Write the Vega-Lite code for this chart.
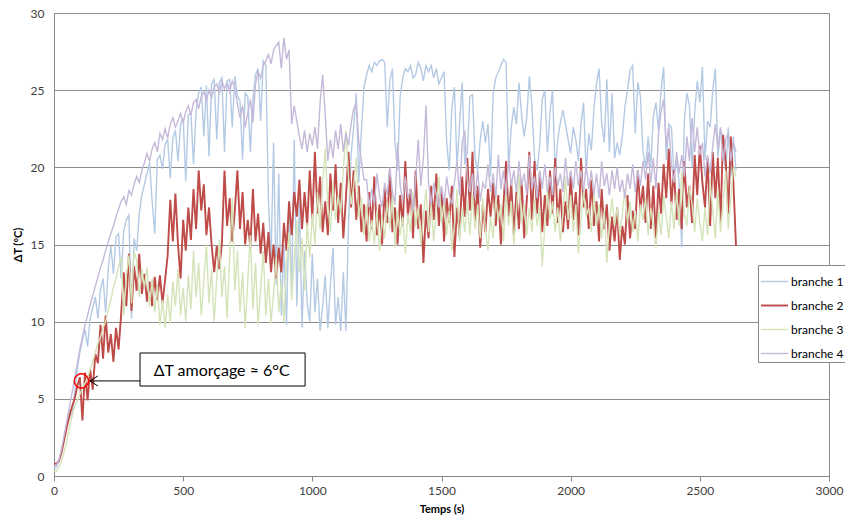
{
 "$schema": "https://vega.github.io/schema/vega-lite/v6.json",
 "width": 775,
 "height": 463,
 "autosize": {"type": "none"},
 "padding": {"left": 54, "top": 13, "right": 16, "bottom": 47},
 "background": "white",
 "config": {"view": {"stroke": "#898989", "strokeWidth": 1}, "font": "Lato"},
 "layer": [
  {
   "data": {"values": [
{"t":0,"branche 1":0.5,"branche 2":0.8,"branche 3":0.3,"branche 4":0.6},
{"t":10,"branche 1":0.6,"branche 2":0.8,"branche 3":0.3,"branche 4":0.7},
{"t":20,"branche 1":1.0,"branche 2":1.0,"branche 3":0.6,"branche 4":1.1},
{"t":30,"branche 1":1.7,"branche 2":1.6,"branche 3":1.0,"branche 4":1.8},
{"t":40,"branche 1":2.5,"branche 2":2.4,"branche 3":1.6,"branche 4":2.7},
{"t":50,"branche 1":3.4,"branche 2":3.2,"branche 3":2.3,"branche 4":3.6},
{"t":60,"branche 1":4.2,"branche 2":3.9,"branche 3":3.1,"branche 4":4.5},
{"t":70,"branche 1":3.8,"branche 2":4.5,"branche 3":3.9,"branche 4":5.4},
{"t":80,"branche 1":5.4,"branche 2":5.0,"branche 3":4.5,"branche 4":6.3},
{"t":90,"branche 1":6.9,"branche 2":5.8,"branche 3":4.9,"branche 4":7.3},
{"t":100,"branche 1":8.0,"branche 2":6.4,"branche 3":5.3,"branche 4":8.2},
{"t":110,"branche 1":8.8,"branche 2":3.6,"branche 3":5.7,"branche 4":9.0},
{"t":120,"branche 1":9.5,"branche 2":6.7,"branche 3":6.0,"branche 4":9.8},
{"t":130,"branche 1":8.4,"branche 2":4.9,"branche 3":6.4,"branche 4":10.4},
{"t":140,"branche 1":10.2,"branche 2":6.9,"branche 3":6.9,"branche 4":11.1},
{"t":150,"branche 1":10.9,"branche 2":5.6,"branche 3":7.4,"branche 4":11.7},
{"t":160,"branche 1":11.6,"branche 2":7.9,"branche 3":8.0,"branche 4":12.3},
{"t":170,"branche 1":10.2,"branche 2":7.3,"branche 3":8.6,"branche 4":12.9},
{"t":180,"branche 1":12.1,"branche 2":9.8,"branche 3":9.0,"branche 4":13.5},
{"t":190,"branche 1":12.8,"branche 2":7.6,"branche 3":9.6,"branche 4":14.0},
{"t":200,"branche 1":10.6,"branche 2":10.4,"branche 3":10.0,"branche 4":14.6},
{"t":210,"branche 1":13.4,"branche 2":8.0,"branche 3":10.8,"branche 4":15.2},
{"t":220,"branche 1":14.9,"branche 2":9.2,"branche 3":11.4,"branche 4":15.7},
{"t":230,"branche 1":13.1,"branche 2":7.4,"branche 3":12.2,"branche 4":16.2},
{"t":240,"branche 1":15.5,"branche 2":9.6,"branche 3":12.8,"branche 4":16.8},
{"t":250,"branche 1":15.7,"branche 2":8.2,"branche 3":13.6,"branche 4":17.3},
{"t":260,"branche 1":12.8,"branche 2":10.5,"branche 3":14.2,"branche 4":17.8},
{"t":270,"branche 1":15.9,"branche 2":13.2,"branche 3":10.4,"branche 4":18.1},
{"t":280,"branche 1":16.6,"branche 2":11.0,"branche 3":13.0,"branche 4":17.6},
{"t":290,"branche 1":16.9,"branche 2":14.4,"branche 3":14.3,"branche 4":18.5},
{"t":300,"branche 1":10.2,"branche 2":10.7,"branche 3":11.2,"branche 4":18.2},
{"t":310,"branche 1":15.4,"branche 2":13.6,"branche 3":14.5,"branche 4":18.9},
{"t":320,"branche 1":14.6,"branche 2":12.0,"branche 3":14.0,"branche 4":19.4},
{"t":330,"branche 1":17.0,"branche 2":14.4,"branche 3":11.6,"branche 4":19.0},
{"t":340,"branche 1":18.2,"branche 2":11.8,"branche 3":13.4,"branche 4":19.8},
{"t":350,"branche 1":18.9,"branche 2":13.1,"branche 3":12.2,"branche 4":20.3},
{"t":360,"branche 1":19.6,"branche 2":11.3,"branche 3":13.5,"branche 4":20.9},
{"t":370,"branche 1":20.3,"branche 2":12.6,"branche 3":11.0,"branche 4":20.4},
{"t":380,"branche 1":17.8,"branche 2":11.0,"branche 3":12.8,"branche 4":21.2},
{"t":390,"branche 1":15.7,"branche 2":12.9,"branche 3":10.6,"branche 4":21.6},
{"t":400,"branche 1":20.5,"branche 2":11.4,"branche 3":12.4,"branche 4":21.0},
{"t":410,"branche 1":20.8,"branche 2":13.0,"branche 3":9.8,"branche 4":22.2},
{"t":420,"branche 1":19.9,"branche 2":11.2,"branche 3":11.4,"branche 4":21.8},
{"t":430,"branche 1":21.5,"branche 2":12.7,"branche 3":9.6,"branche 4":22.5},
{"t":440,"branche 1":21.8,"branche 2":14.3,"branche 3":11.8,"branche 4":21.9},
{"t":450,"branche 1":19.3,"branche 2":17.9,"branche 3":9.9,"branche 4":22.8},
{"t":460,"branche 1":21.9,"branche 2":15.2,"branche 3":12.6,"branche 4":23.2},
{"t":470,"branche 1":22.4,"branche 2":18.3,"branche 3":11.0,"branche 4":22.6},
{"t":480,"branche 1":20.4,"branche 2":15.0,"branche 3":13.4,"branche 4":23.0},
{"t":490,"branche 1":22.8,"branche 2":12.8,"branche 3":10.4,"branche 4":23.5},
{"t":500,"branche 1":23.2,"branche 2":16.6,"branche 3":12.2,"branche 4":22.9},
{"t":510,"branche 1":19.1,"branche 2":14.6,"branche 3":10.0,"branche 4":23.6},
{"t":520,"branche 1":23.4,"branche 2":17.4,"branche 3":13.0,"branche 4":24.0},
{"t":530,"branche 1":23.5,"branche 2":15.3,"branche 3":10.8,"branche 4":23.4},
{"t":540,"branche 1":20.2,"branche 2":18.6,"branche 3":14.6,"branche 4":24.2},
{"t":550,"branche 1":23.6,"branche 2":16.0,"branche 3":11.6,"branche 4":24.4},
{"t":560,"branche 1":24.8,"branche 2":19.8,"branche 3":13.8,"branche 4":23.8},
{"t":570,"branche 1":25.2,"branche 2":17.2,"branche 3":10.4,"branche 4":24.6},
{"t":580,"branche 1":22.0,"branche 2":18.9,"branche 3":12.6,"branche 4":24.9},
{"t":590,"branche 1":25.3,"branche 2":15.6,"branche 3":15.0,"branche 4":24.3},
{"t":600,"branche 1":20.7,"branche 2":17.4,"branche 3":11.2,"branche 4":25.0},
{"t":610,"branche 1":25.4,"branche 2":15.0,"branche 3":13.4,"branche 4":24.5},
{"t":620,"branche 1":25.7,"branche 2":13.2,"branche 3":10.0,"branche 4":25.2},
{"t":630,"branche 1":21.8,"branche 2":14.9,"branche 3":12.8,"branche 4":25.4},
{"t":640,"branche 1":25.5,"branche 2":13.4,"branche 3":15.3,"branche 4":24.8},
{"t":650,"branche 1":25.8,"branche 2":15.1,"branche 3":11.6,"branche 4":25.6},
{"t":660,"branche 1":21.0,"branche 2":19.8,"branche 3":13.6,"branche 4":25.1},
{"t":670,"branche 1":25.6,"branche 2":16.2,"branche 3":10.2,"branche 4":25.5},
{"t":680,"branche 1":25.7,"branche 2":18.0,"branche 3":14.2,"branche 4":24.9},
{"t":690,"branche 1":22.6,"branche 2":15.2,"branche 3":18.0,"branche 4":25.6},
{"t":700,"branche 1":25.9,"branche 2":17.2,"branche 3":12.0,"branche 4":25.2},
{"t":710,"branche 1":24.6,"branche 2":19.8,"branche 3":14.6,"branche 4":24.1},
{"t":720,"branche 1":24.3,"branche 2":16.0,"branche 3":10.6,"branche 4":23.2},
{"t":730,"branche 1":20.5,"branche 2":18.4,"branche 3":13.2,"branche 4":24.0},
{"t":740,"branche 1":24.8,"branche 2":15.0,"branche 3":9.6,"branche 4":22.6},
{"t":750,"branche 1":24.6,"branche 2":16.6,"branche 3":12.6,"branche 4":23.5},
{"t":760,"branche 1":21.0,"branche 2":14.8,"branche 3":15.6,"branche 4":24.4},
{"t":770,"branche 1":24.4,"branche 2":18.6,"branche 3":10.8,"branche 4":22.9},
{"t":780,"branche 1":26.0,"branche 2":15.2,"branche 3":13.8,"branche 4":25.4},
{"t":790,"branche 1":26.4,"branche 2":17.0,"branche 3":9.8,"branche 4":26.2},
{"t":800,"branche 1":23.0,"branche 2":14.4,"branche 3":12.2,"branche 4":25.8},
{"t":810,"branche 1":26.9,"branche 2":16.4,"branche 3":14.6,"branche 4":26.6},
{"t":820,"branche 1":26.6,"branche 2":13.8,"branche 3":10.4,"branche 4":26.9},
{"t":830,"branche 1":18.0,"branche 2":15.8,"branche 3":12.8,"branche 4":27.3},
{"t":840,"branche 1":14.0,"branche 2":13.2,"branche 3":9.9,"branche 4":26.7},
{"t":850,"branche 1":21.6,"branche 2":15.0,"branche 3":11.8,"branche 4":27.6},
{"t":860,"branche 1":12.4,"branche 2":12.8,"branche 3":14.2,"branche 4":27.9},
{"t":870,"branche 1":19.6,"branche 2":14.8,"branche 3":10.6,"branche 4":28.1},
{"t":880,"branche 1":10.4,"branche 2":13.2,"branche 3":12.6,"branche 4":26.4},
{"t":890,"branche 1":15.0,"branche 2":16.4,"branche 3":10.0,"branche 4":28.4},
{"t":900,"branche 1":9.8,"branche 2":14.6,"branche 3":13.8,"branche 4":27.0},
{"t":910,"branche 1":17.2,"branche 2":17.8,"branche 3":15.8,"branche 4":27.6},
{"t":920,"branche 1":12.0,"branche 2":15.6,"branche 3":11.4,"branche 4":22.8},
{"t":930,"branche 1":21.8,"branche 2":18.4,"branche 3":14.0,"branche 4":24.0},
{"t":940,"branche 1":11.0,"branche 2":16.8,"branche 3":16.6,"branche 4":23.0},
{"t":950,"branche 1":18.0,"branche 2":19.2,"branche 3":13.2,"branche 4":22.0},
{"t":960,"branche 1":9.6,"branche 2":16.0,"branche 3":15.4,"branche 4":21.2},
{"t":970,"branche 1":14.6,"branche 2":18.4,"branche 3":12.0,"branche 4":22.4},
{"t":980,"branche 1":11.2,"branche 2":16.2,"branche 3":16.4,"branche 4":21.0},
{"t":990,"branche 1":10.0,"branche 2":19.8,"branche 3":14.2,"branche 4":22.2},
{"t":1000,"branche 1":14.4,"branche 2":16.6,"branche 3":17.0,"branche 4":21.4},
{"t":1010,"branche 1":10.6,"branche 2":21.0,"branche 3":15.0,"branche 4":22.6},
{"t":1020,"branche 1":12.8,"branche 2":17.0,"branche 3":18.4,"branche 4":21.2},
{"t":1030,"branche 1":9.4,"branche 2":19.4,"branche 3":16.0,"branche 4":24.2},
{"t":1040,"branche 1":11.0,"branche 2":15.8,"branche 3":19.0,"branche 4":26.0},
{"t":1050,"branche 1":13.0,"branche 2":17.8,"branche 3":21.2,"branche 4":23.4},
{"t":1060,"branche 1":9.6,"branche 2":15.6,"branche 3":17.6,"branche 4":20.4},
{"t":1070,"branche 1":12.4,"branche 2":19.6,"branche 3":15.8,"branche 4":21.8},
{"t":1080,"branche 1":14.8,"branche 2":17.2,"branche 3":19.0,"branche 4":20.6},
{"t":1090,"branche 1":9.8,"branche 2":20.2,"branche 3":16.6,"branche 4":22.4},
{"t":1100,"branche 1":11.6,"branche 2":16.4,"branche 3":18.2,"branche 4":21.2},
{"t":1110,"branche 1":9.4,"branche 2":19.0,"branche 3":17.0,"branche 4":22.8},
{"t":1120,"branche 1":13.2,"branche 2":15.4,"branche 3":19.8,"branche 4":21.0},
{"t":1130,"branche 1":9.4,"branche 2":18.0,"branche 3":22.4,"branche 4":22.2},
{"t":1140,"branche 1":16.4,"branche 2":21.0,"branche 3":19.4,"branche 4":21.4},
{"t":1150,"branche 1":20.8,"branche 2":17.4,"branche 3":17.6,"branche 4":22.8},
{"t":1160,"branche 1":22.6,"branche 2":19.8,"branche 3":18.8,"branche 4":23.8},
{"t":1170,"branche 1":24.8,"branche 2":16.6,"branche 3":20.6,"branche 4":24.2},
{"t":1180,"branche 1":19.0,"branche 2":18.8,"branche 3":16.8,"branche 4":21.6},
{"t":1190,"branche 1":22.4,"branche 2":15.8,"branche 3":18.0,"branche 4":20.4},
{"t":1200,"branche 1":25.2,"branche 2":17.6,"branche 3":15.6,"branche 4":19.2},
{"t":1210,"branche 1":26.0,"branche 2":15.2,"branche 3":17.6,"branche 4":19.2},
{"t":1220,"branche 1":26.6,"branche 2":18.4,"branche 3":15.2,"branche 4":17.4},
{"t":1230,"branche 1":26.2,"branche 2":16.0,"branche 3":16.6,"branche 4":18.6},
{"t":1240,"branche 1":26.8,"branche 2":19.4,"branche 3":15.0,"branche 4":17.6},
{"t":1250,"branche 1":26.6,"branche 2":15.6,"branche 3":17.2,"branche 4":19.6},
{"t":1260,"branche 1":26.9,"branche 2":17.6,"branche 3":14.6,"branche 4":18.2},
{"t":1270,"branche 1":27.0,"branche 2":15.0,"branche 3":16.8,"branche 4":17.4},
{"t":1280,"branche 1":26.8,"branche 2":18.6,"branche 3":15.4,"branche 4":19.0},
{"t":1290,"branche 1":22.6,"branche 2":16.4,"branche 3":17.8,"branche 4":18.2},
{"t":1300,"branche 1":25.6,"branche 2":19.8,"branche 3":16.0,"branche 4":20.0},
{"t":1310,"branche 1":26.4,"branche 2":15.8,"branche 3":18.2,"branche 4":18.4},
{"t":1320,"branche 1":21.6,"branche 2":17.4,"branche 3":14.8,"branche 4":17.6},
{"t":1330,"branche 1":19.8,"branche 2":15.0,"branche 3":17.2,"branche 4":21.6},
{"t":1340,"branche 1":24.6,"branche 2":18.2,"branche 3":15.6,"branche 4":18.8},
{"t":1350,"branche 1":25.8,"branche 2":16.2,"branche 3":16.8,"branche 4":17.8},
{"t":1360,"branche 1":26.4,"branche 2":20.4,"branche 3":14.4,"branche 4":19.4},
{"t":1370,"branche 1":26.2,"branche 2":16.8,"branche 3":17.0,"branche 4":18.0},
{"t":1380,"branche 1":26.6,"branche 2":18.6,"branche 3":15.8,"branche 4":18.6},
{"t":1390,"branche 1":25.8,"branche 2":15.4,"branche 3":18.4,"branche 4":17.2},
{"t":1400,"branche 1":26.0,"branche 2":19.8,"branche 3":16.2,"branche 4":19.2},
{"t":1410,"branche 1":26.8,"branche 2":16.0,"branche 3":17.4,"branche 4":21.8},
{"t":1420,"branche 1":26.4,"branche 2":17.6,"branche 3":15.0,"branche 4":18.8},
{"t":1430,"branche 1":25.6,"branche 2":13.8,"branche 3":16.8,"branche 4":20.6},
{"t":1440,"branche 1":26.6,"branche 2":17.2,"branche 3":18.6,"branche 4":24.0},
{"t":1450,"branche 1":26.2,"branche 2":15.4,"branche 3":15.8,"branche 4":19.0},
{"t":1460,"branche 1":26.6,"branche 2":18.8,"branche 3":17.6,"branche 4":17.6},
{"t":1470,"branche 1":25.8,"branche 2":16.6,"branche 3":15.2,"branche 4":19.0},
{"t":1480,"branche 1":26.4,"branche 2":19.6,"branche 3":17.4,"branche 4":18.2},
{"t":1490,"branche 1":25.4,"branche 2":16.2,"branche 3":19.4,"branche 4":17.4},
{"t":1500,"branche 1":25.8,"branche 2":18.6,"branche 3":16.4,"branche 4":18.8},
{"t":1510,"branche 1":26.2,"branche 2":15.2,"branche 3":17.8,"branche 4":17.6},
{"t":1520,"branche 1":21.6,"branche 2":18.0,"branche 3":15.6,"branche 4":19.4},
{"t":1530,"branche 1":19.8,"branche 2":16.4,"branche 3":17.2,"branche 4":18.2},
{"t":1540,"branche 1":23.8,"branche 2":18.8,"branche 3":14.6,"branche 4":17.6},
{"t":1550,"branche 1":25.2,"branche 2":14.2,"branche 3":16.2,"branche 4":19.0},
{"t":1560,"branche 1":20.0,"branche 2":17.4,"branche 3":18.6,"branche 4":20.4},
{"t":1570,"branche 1":22.8,"branche 2":15.6,"branche 3":15.2,"branche 4":18.2},
{"t":1580,"branche 1":25.5,"branche 2":19.4,"branche 3":17.4,"branche 4":21.6},
{"t":1590,"branche 1":20.2,"branche 2":16.8,"branche 3":15.8,"branche 4":22.4},
{"t":1600,"branche 1":21.0,"branche 2":20.6,"branche 3":17.8,"branche 4":19.2},
{"t":1610,"branche 1":24.6,"branche 2":17.2,"branche 3":15.6,"branche 4":18.4},
{"t":1620,"branche 1":24.7,"branche 2":21.0,"branche 3":18.2,"branche 4":19.6},
{"t":1630,"branche 1":20.6,"branche 2":16.4,"branche 3":16.0,"branche 4":18.0},
{"t":1640,"branche 1":19.8,"branche 2":18.8,"branche 3":17.6,"branche 4":19.8},
{"t":1650,"branche 1":21.8,"branche 2":14.8,"branche 3":15.4,"branche 4":17.8},
{"t":1660,"branche 1":23.0,"branche 2":17.6,"branche 3":18.0,"branche 4":19.0},
{"t":1670,"branche 1":21.6,"branche 2":15.8,"branche 3":16.0,"branche 4":18.6},
{"t":1680,"branche 1":22.8,"branche 2":18.6,"branche 3":14.6,"branche 4":20.2},
{"t":1690,"branche 1":19.4,"branche 2":16.8,"branche 3":16.8,"branche 4":18.4},
{"t":1700,"branche 1":24.8,"branche 2":19.0,"branche 3":15.4,"branche 4":19.6},
{"t":1710,"branche 1":25.8,"branche 2":16.2,"branche 3":18.0,"branche 4":18.0},
{"t":1720,"branche 1":26.2,"branche 2":18.2,"branche 3":16.6,"branche 4":20.8},
{"t":1730,"branche 1":26.6,"branche 2":15.0,"branche 3":17.6,"branche 4":18.6},
{"t":1740,"branche 1":27.0,"branche 2":17.6,"branche 3":15.2,"branche 4":19.8},
{"t":1750,"branche 1":26.8,"branche 2":20.4,"branche 3":18.4,"branche 4":18.2},
{"t":1760,"branche 1":20.0,"branche 2":16.8,"branche 3":16.2,"branche 4":20.6},
{"t":1770,"branche 1":22.6,"branche 2":19.0,"branche 3":17.8,"branche 4":18.8},
{"t":1780,"branche 1":23.9,"branche 2":15.6,"branche 3":15.0,"branche 4":19.8},
{"t":1790,"branche 1":22.8,"branche 2":18.4,"branche 3":17.2,"branche 4":18.4},
{"t":1800,"branche 1":25.5,"branche 2":16.0,"branche 3":19.6,"branche 4":20.4},
{"t":1810,"branche 1":23.4,"branche 2":19.2,"branche 3":16.4,"branche 4":18.8},
{"t":1820,"branche 1":22.0,"branche 2":15.4,"branche 3":17.6,"branche 4":19.6},
{"t":1830,"branche 1":23.2,"branche 2":17.8,"branche 3":15.6,"branche 4":18.2},
{"t":1840,"branche 1":25.9,"branche 2":21.0,"branche 3":17.4,"branche 4":20.8},
{"t":1850,"branche 1":24.0,"branche 2":16.6,"branche 3":15.8,"branche 4":18.6},
{"t":1860,"branche 1":20.6,"branche 2":20.4,"branche 3":18.0,"branche 4":19.4},
{"t":1870,"branche 1":19.8,"branche 2":17.0,"branche 3":16.2,"branche 4":18.0},
{"t":1880,"branche 1":21.4,"branche 2":19.6,"branche 3":17.4,"branche 4":19.8},
{"t":1890,"branche 1":24.4,"branche 2":15.8,"branche 3":13.6,"branche 4":18.6},
{"t":1900,"branche 1":25.0,"branche 2":18.2,"branche 3":16.2,"branche 4":20.2},
{"t":1910,"branche 1":21.0,"branche 2":16.2,"branche 3":18.4,"branche 4":18.4},
{"t":1920,"branche 1":23.6,"branche 2":19.8,"branche 3":16.6,"branche 4":19.4},
{"t":1930,"branche 1":25.0,"branche 2":17.0,"branche 3":17.8,"branche 4":18.2},
{"t":1940,"branche 1":19.6,"branche 2":20.6,"branche 3":15.8,"branche 4":20.0},
{"t":1950,"branche 1":21.8,"branche 2":16.4,"branche 3":17.4,"branche 4":18.8},
{"t":1960,"branche 1":22.9,"branche 2":18.6,"branche 3":15.2,"branche 4":19.6},
{"t":1970,"branche 1":23.7,"branche 2":15.8,"branche 3":17.0,"branche 4":18.4},
{"t":1980,"branche 1":22.8,"branche 2":17.8,"branche 3":19.4,"branche 4":20.6},
{"t":1990,"branche 1":21.8,"branche 2":16.0,"branche 3":16.6,"branche 4":18.8},
{"t":2000,"branche 1":20.9,"branche 2":19.6,"branche 3":18.2,"branche 4":19.8},
{"t":2010,"branche 1":22.6,"branche 2":16.6,"branche 3":15.8,"branche 4":18.6},
{"t":2020,"branche 1":21.8,"branche 2":18.4,"branche 3":17.6,"branche 4":20.4},
{"t":2030,"branche 1":20.4,"branche 2":15.6,"branche 3":14.4,"branche 4":18.8},
{"t":2040,"branche 1":22.8,"branche 2":20.6,"branche 3":16.6,"branche 4":19.8},
{"t":2050,"branche 1":24.2,"branche 2":17.4,"branche 3":18.4,"branche 4":18.4},
{"t":2060,"branche 1":19.6,"branche 2":18.6,"branche 3":16.8,"branche 4":20.2},
{"t":2070,"branche 1":22.2,"branche 2":16.0,"branche 3":17.4,"branche 4":18.6},
{"t":2080,"branche 1":21.1,"branche 2":19.2,"branche 3":15.8,"branche 4":19.8},
{"t":2090,"branche 1":23.8,"branche 2":16.2,"branche 3":18.2,"branche 4":18.2},
{"t":2100,"branche 1":25.4,"branche 2":17.8,"branche 3":16.2,"branche 4":19.6},
{"t":2110,"branche 1":26.4,"branche 2":15.2,"branche 3":17.6,"branche 4":18.0},
{"t":2120,"branche 1":22.9,"branche 2":18.6,"branche 3":15.4,"branche 4":20.4},
{"t":2130,"branche 1":21.6,"branche 2":16.0,"branche 3":17.2,"branche 4":18.8},
{"t":2140,"branche 1":25.7,"branche 2":17.6,"branche 3":13.8,"branche 4":19.6},
{"t":2150,"branche 1":21.0,"branche 2":14.6,"branche 3":16.4,"branche 4":18.2},
{"t":2160,"branche 1":24.8,"branche 2":16.8,"branche 3":18.0,"branche 4":19.8},
{"t":2170,"branche 1":20.6,"branche 2":15.2,"branche 3":16.2,"branche 4":18.6},
{"t":2180,"branche 1":21.6,"branche 2":17.4,"branche 3":17.4,"branche 4":20.0},
{"t":2190,"branche 1":20.8,"branche 2":14.0,"branche 3":15.6,"branche 4":18.4},
{"t":2200,"branche 1":22.0,"branche 2":16.2,"branche 3":17.0,"branche 4":19.2},
{"t":2210,"branche 1":23.9,"branche 2":15.0,"branche 3":18.6,"branche 4":18.0},
{"t":2220,"branche 1":25.0,"branche 2":18.2,"branche 3":16.4,"branche 4":19.6},
{"t":2230,"branche 1":26.3,"branche 2":15.4,"branche 3":17.8,"branche 4":18.6},
{"t":2240,"branche 1":26.6,"branche 2":17.2,"branche 3":15.8,"branche 4":20.2},
{"t":2250,"branche 1":22.2,"branche 2":16.0,"branche 3":17.2,"branche 4":18.4},
{"t":2260,"branche 1":25.5,"branche 2":19.8,"branche 3":15.2,"branche 4":19.8},
{"t":2270,"branche 1":24.6,"branche 2":17.2,"branche 3":17.6,"branche 4":18.8},
{"t":2280,"branche 1":21.0,"branche 2":18.8,"branche 3":16.6,"branche 4":20.4},
{"t":2290,"branche 1":20.0,"branche 2":16.4,"branche 3":18.0,"branche 4":19.2},
{"t":2300,"branche 1":22.0,"branche 2":19.6,"branche 3":15.6,"branche 4":21.0},
{"t":2310,"branche 1":20.0,"branche 2":16.0,"branche 3":17.4,"branche 4":19.0},
{"t":2320,"branche 1":23.3,"branche 2":18.8,"branche 3":16.2,"branche 4":20.6},
{"t":2330,"branche 1":24.2,"branche 2":15.4,"branche 3":14.8,"branche 4":18.6},
{"t":2340,"branche 1":22.4,"branche 2":19.0,"branche 3":17.2,"branche 4":22.2},
{"t":2350,"branche 1":25.0,"branche 2":17.0,"branche 3":15.6,"branche 4":23.6},
{"t":2360,"branche 1":26.5,"branche 2":20.2,"branche 3":18.2,"branche 4":24.4},
{"t":2370,"branche 1":20.5,"branche 2":18.0,"branche 3":16.8,"branche 4":21.4},
{"t":2380,"branche 1":22.8,"branche 2":21.2,"branche 3":15.4,"branche 4":22.6},
{"t":2390,"branche 1":22.6,"branche 2":17.6,"branche 3":17.8,"branche 4":20.2},
{"t":2400,"branche 1":19.5,"branche 2":19.8,"branche 3":16.0,"branche 4":19.0},
{"t":2410,"branche 1":20.5,"branche 2":16.6,"branche 3":18.4,"branche 4":21.0},
{"t":2420,"branche 1":19.0,"branche 2":18.6,"branche 3":16.2,"branche 4":19.6},
{"t":2430,"branche 1":14.8,"branche 2":16.0,"branche 3":19.8,"branche 4":20.8},
{"t":2440,"branche 1":23.0,"branche 2":20.4,"branche 3":17.0,"branche 4":19.4},
{"t":2450,"branche 1":24.8,"branche 2":17.4,"branche 3":16.2,"branche 4":22.0},
{"t":2460,"branche 1":24.0,"branche 2":18.8,"branche 3":18.8,"branche 4":20.4},
{"t":2470,"branche 1":20.0,"branche 2":16.4,"branche 3":17.6,"branche 4":23.2},
{"t":2480,"branche 1":23.5,"branche 2":20.8,"branche 3":15.8,"branche 4":21.0},
{"t":2490,"branche 1":25.6,"branche 2":18.2,"branche 3":18.0,"branche 4":22.6},
{"t":2500,"branche 1":24.2,"branche 2":21.4,"branche 3":16.4,"branche 4":20.8},
{"t":2510,"branche 1":26.5,"branche 2":19.0,"branche 3":15.2,"branche 4":21.6},
{"t":2520,"branche 1":20.5,"branche 2":17.4,"branche 3":17.4,"branche 4":19.4},
{"t":2530,"branche 1":23.0,"branche 2":20.6,"branche 3":15.6,"branche 4":20.8},
{"t":2540,"branche 1":22.6,"branche 2":16.2,"branche 3":19.0,"branche 4":19.6},
{"t":2550,"branche 1":25.0,"branche 2":21.0,"branche 3":17.2,"branche 4":21.4},
{"t":2560,"branche 1":26.4,"branche 2":18.0,"branche 3":15.4,"branche 4":22.8},
{"t":2570,"branche 1":20.6,"branche 2":20.6,"branche 3":18.6,"branche 4":21.2},
{"t":2580,"branche 1":22.4,"branche 2":16.4,"branche 3":15.8,"branche 4":22.6},
{"t":2590,"branche 1":22.0,"branche 2":22.1,"branche 3":17.6,"branche 4":20.4},
{"t":2600,"branche 1":19.6,"branche 2":20.4,"branche 3":19.8,"branche 4":21.8},
{"t":2610,"branche 1":22.6,"branche 2":17.0,"branche 3":16.0,"branche 4":22.2},
{"t":2620,"branche 1":19.4,"branche 2":22.0,"branche 3":18.0,"branche 4":20.4},
{"t":2630,"branche 1":22.0,"branche 2":19.0,"branche 3":20.0,"branche 4":21.6},
{"t":2640,"branche 1":19.8,"branche 2":14.9,"branche 3":19.4,"branche 4":21.0}
   ]},
   "transform": [{"fold": ["branche 1", "branche 2", "branche 3", "branche 4"], "as": ["serie", "v"]}],
   "mark": {"type": "line"},
   "encoding": {
    "x": {"field": "t", "type": "quantitative", "title": "Temps (s)",
          "scale": {"domain": [0, 3000], "nice": false},
          "axis": {"values": [0, 500, 1000, 1500, 2000, 2500, 3000], "format": "d", "grid": false, "domainColor": "#898989", "tickColor": "#898989", "tickSize": 5, "labelFontSize": 12, "labelColor": "#404040", "labelPadding": 4, "labelFlush": false, "titleFontSize": 11, "titleFontWeight": "bold", "titleColor": "#000000", "titlePadding": 7}},
    "y": {"field": "v", "type": "quantitative", "title": "ΔT (°C)",
          "scale": {"domain": [0, 30], "nice": false},
          "axis": {"values": [0, 5, 10, 15, 20, 25, 30], "format": "d", "grid": true, "gridColor": "#8c8c8c", "ticks": false, "domainColor": "#898989", "labelPadding": 10, "labelFontSize": 12, "labelColor": "#404040", "titleFontSize": 11, "titleFontWeight": "bold", "titleColor": "#000000", "titlePadding": 7}},
    "color": {"field": "serie", "type": "nominal",
              "scale": {"domain": ["branche 1", "branche 2", "branche 3", "branche 4"], "range": ["#B4CAE4", "#BE4B48", "#D5E3B9", "#C5B9D9"]},
              "legend": {"orient": "none", "legendX": 704, "legendY": 252, "title": null, "symbolType": "stroke", "symbolSize": 729, "symbolStrokeWidth": 1.8, "labelFontSize": 12, "labelColor": "#000000", "labelOffset": 2, "labelLimit": 0, "strokeColor": "#898989", "fillColor": "white", "padding": 2, "rowPadding": 3}},
    "strokeWidth": {"field": "serie", "type": "nominal",
              "scale": {"type": "ordinal", "domain": ["branche 1", "branche 2", "branche 3", "branche 4"], "range": [1.4, 1.9, 1.4, 1.4]},
              "legend": null}
   }
  },
  {
   "data": {"values": [{"t": 333, "t2": 972, "v": 5.83, "v2": 7.97}]},
   "mark": {"type": "rect", "fill": "white", "stroke": "black", "strokeWidth": 1},
   "encoding": {
    "x": {"field": "t", "type": "quantitative", "title": "Temps (s)"},
    "x2": {"field": "t2"},
    "y": {"field": "v", "type": "quantitative", "title": "ΔT (°C)"},
    "y2": {"field": "v2"}
   }
  },
  {
   "data": {"values": [{"t": 139, "t2": 333, "v": 6.16}]},
   "mark": {"type": "rule", "color": "black", "strokeWidth": 1},
   "encoding": {
    "x": {"field": "t", "type": "quantitative", "title": "Temps (s)"},
    "x2": {"field": "t2"},
    "y": {"field": "v", "type": "quantitative", "title": "ΔT (°C)"}
   }
  },
  {
   "data": {"values": [{"t": 139, "v": 6.16}]},
   "mark": {"type": "point", "shape": "M1.6,-1L0,0L1.6,1", "filled": false, "stroke": "black", "strokeWidth": 1, "size": 100, "opacity": 1},
   "encoding": {
    "x": {"field": "t", "type": "quantitative", "title": "Temps (s)"},
    "y": {"field": "v", "type": "quantitative", "title": "ΔT (°C)"}
   }
  },
  {
   "data": {"values": [{"t": 106, "v": 6.16}]},
   "mark": {"type": "point", "shape": "circle", "filled": false, "stroke": "#FF0000", "strokeWidth": 1.5, "size": 200, "opacity": 1},
   "encoding": {
    "x": {"field": "t", "type": "quantitative", "title": "Temps (s)"},
    "y": {"field": "v", "type": "quantitative", "title": "ΔT (°C)"}
   }
  },
  {
   "data": {"values": [{"t": 649, "v": 6.8, "label": "ΔT amorçage ≈ 6°C"}]},
   "mark": {"type": "text", "fontSize": 16, "font": "Lato", "color": "black", "align": "center", "baseline": "middle"},
   "encoding": {
    "x": {"field": "t", "type": "quantitative", "title": "Temps (s)"},
    "y": {"field": "v", "type": "quantitative", "title": "ΔT (°C)"},
    "text": {"field": "label"}
   }
  }
 ]
}
